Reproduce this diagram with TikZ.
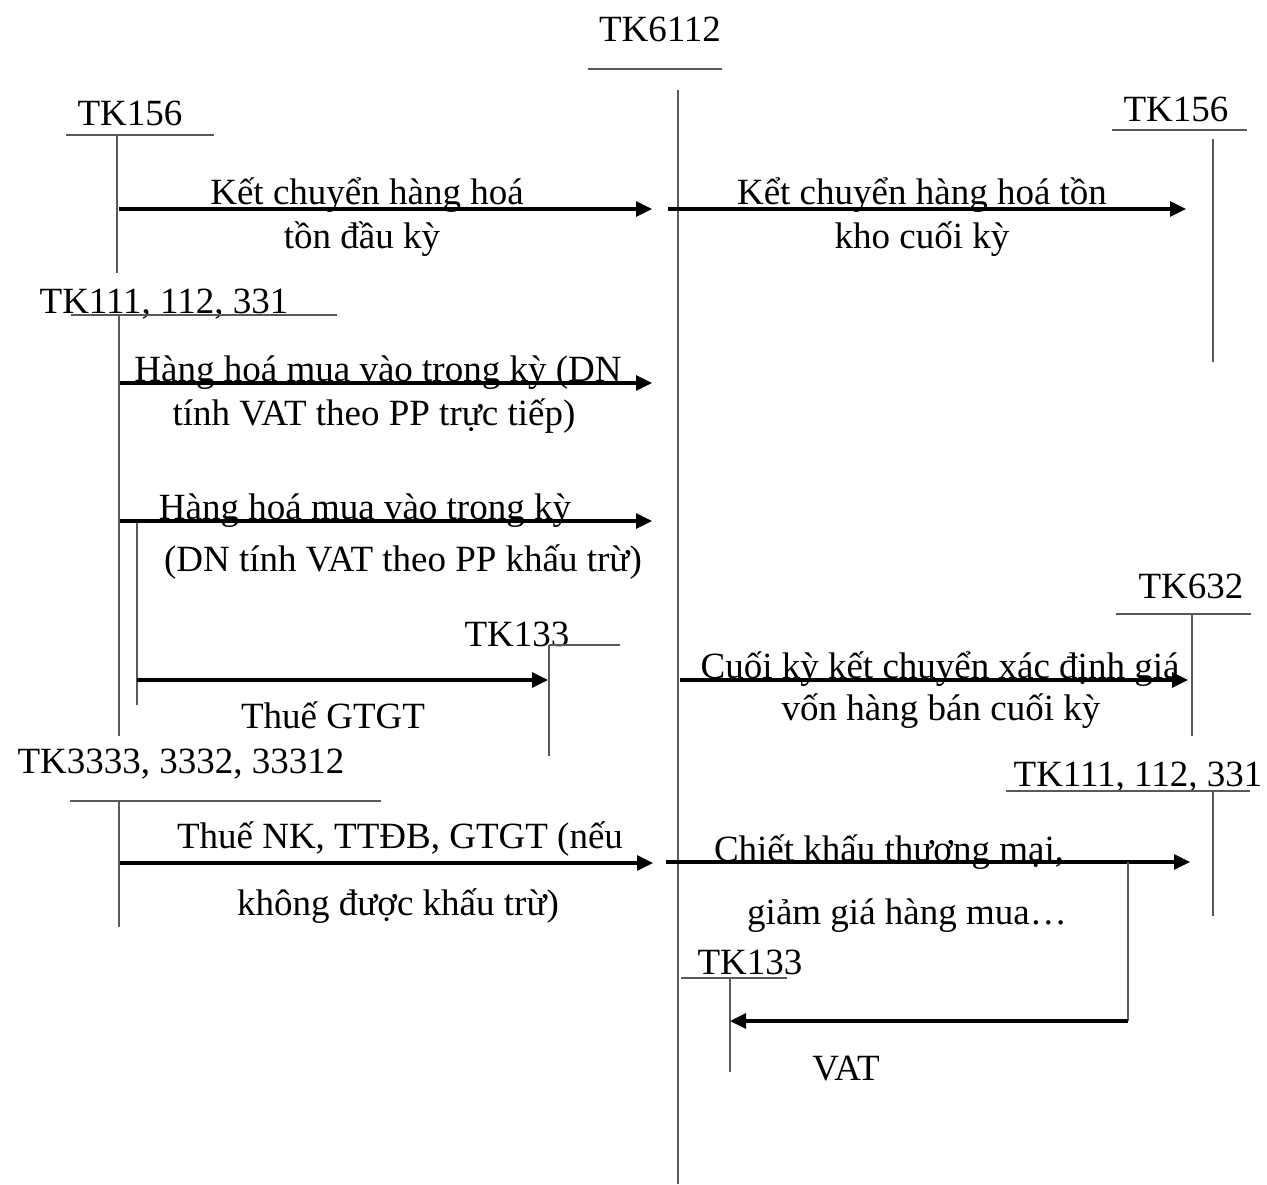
\documentclass[tikz,border=0pt]{standalone}
\usepackage{fontspec}
\setmainfont{Liberation Serif}
\usetikzlibrary{arrows.meta}

\tikzset{
  lbl/.style={anchor=base, inner sep=0pt, font=\fontsize{18.5}{22}\selectfont},
  tline/.style={draw=black!65, line width=0.6pt},
  flow/.style={draw=black, line width=1.6pt, -{Triangle[length=8pt,width=7.5pt]}},
}

\begin{document}
\begin{tikzpicture}[x=0.5pt,y=-0.5pt]
    \useasboundingbox (0,0) rectangle (1267,1184);

    % accounts
    \node[lbl] (tk6112) at (660,41) {TK6112};
    \draw[tline] (588,69) -- (722,69);
    \draw[tline] (678,90) -- (678,1184);

    \node[lbl] (tk156a) at (130,125) {TK156};
    \draw[tline] (66,135) -- (214,135);
    \draw[tline] (117,135) -- (117,273);

    \node[lbl] (tk156b) at (1176,121) {TK156};
    \draw[tline] (1112,130) -- (1247,130);
    \draw[tline] (1213,139) -- (1213,362);

    \node[lbl] (tk111a) at (164,313) {TK111, 112, 331};
    \draw[tline] (71,315) -- (337,315);
    \draw[tline] (119,315) -- (119,736);
    \draw[tline] (137,521) -- (137,705);

    \node[lbl] (tk133a) at (517,646) {TK133};
    \draw[tline] (549,645) -- (620,645);
    \draw[tline] (549,645) -- (549,756);

    \node[lbl] (tk3333) at (181,773) {TK3333, 3332, 33312};
    \draw[tline] (70,801) -- (381,801);
    \draw[tline] (119,801) -- (119,927);

    \node[lbl] (tk632) at (1191,598) {TK632};
    \draw[tline] (1116,614) -- (1251,614);
    \draw[tline] (1192,614) -- (1192,736);

    \node[lbl] (tk111b) at (1138,786) {TK111, 112, 331};
    \draw[tline] (1006,791) -- (1250,791);
    \draw[tline] (1213,791) -- (1213,916);

    \node[lbl] (tk133b) at (750,974) {TK133};
    \draw[tline] (681,978) -- (787,978);
    \draw[tline] (730,978) -- (730,1072);

    % arrow ends
    \coordinate (k1s) at (119,209);  \coordinate (k1e) at (652,209);
    \coordinate (k2s) at (668,209);  \coordinate (k2e) at (1186,209);
    \coordinate (m1s) at (120,383);  \coordinate (m1e) at (652,383);
    \coordinate (m2s) at (120,521);  \coordinate (m2e) at (652,521);
    \coordinate (gts) at (137,680);  \coordinate (gte) at (548,680);
    \coordinate (nks) at (120,863);  \coordinate (nke) at (653,863);
    \coordinate (gvs) at (680,680);  \coordinate (gve) at (1188,680);
    \coordinate (cks) at (666,862);  \coordinate (cke) at (1190,862);
    \coordinate (vtb) at (1128,862); \coordinate (vts) at (1128,1021);
    \coordinate (vte) at (730,1021);

    \draw[flow] (k1s) -- (k1e);
    \draw[flow] (k2s) -- (k2e);
    \draw[flow] (m1s) -- (m1e);
    \draw[flow] (m2s) -- (m2e);
    \draw[flow] (gts) -- (gte);
    \draw[flow] (nks) -- (nke);
    \draw[flow] (gvs) -- (gve);
    \draw[flow] (cks) -- (cke);
    \draw[tline] (vtb) -- (vts);
    \draw[flow] (vts) -- (vte);

    % labels
    \node[lbl] (k1a) at (367,204) {Kết chuyển hàng hoá};
    \node[lbl] (k1b) at (362,248) {tồn đầu kỳ};
    \node[lbl] (k2a) at (922,204) {Kểt chuyển hàng hoá tồn};
    \node[lbl] (k2b) at (922,248) {kho cuối kỳ};
    \node[lbl] (m1a) at (378,381) {Hàng hoá mua vào trong kỳ (DN};
    \node[lbl] (m1b) at (374,425) {tính VAT theo PP trực tiếp)};
    \node[lbl] (m2a) at (365,519) {Hàng hoá mua vào trong kỳ};
    \node[lbl] (m2b) at (403,571) {(DN tính VAT theo PP khấu trừ)};
    \node[lbl] (gt) at (333,728) {Thuế GTGT};
    \node[lbl] (nka) at (400,848) {Thuế NK, TTĐB, GTGT (nếu};
    \node[lbl] (nkb) at (398,915) {không được khấu trừ)};
    \node[lbl] (gva) at (940,678) {Cuối kỳ kết chuyển xác định giá};
    \node[lbl] (gvb) at (941,720) {vốn hàng bán cuối kỳ};
    \node[lbl] (cka) at (889,861) {Chiết khấu thương mại,};
    \node[lbl] (ckb) at (907,924) {giảm giá hàng mua…};
    \node[lbl] (vat) at (846,1080) {VAT};
\end{tikzpicture}
\end{document}
